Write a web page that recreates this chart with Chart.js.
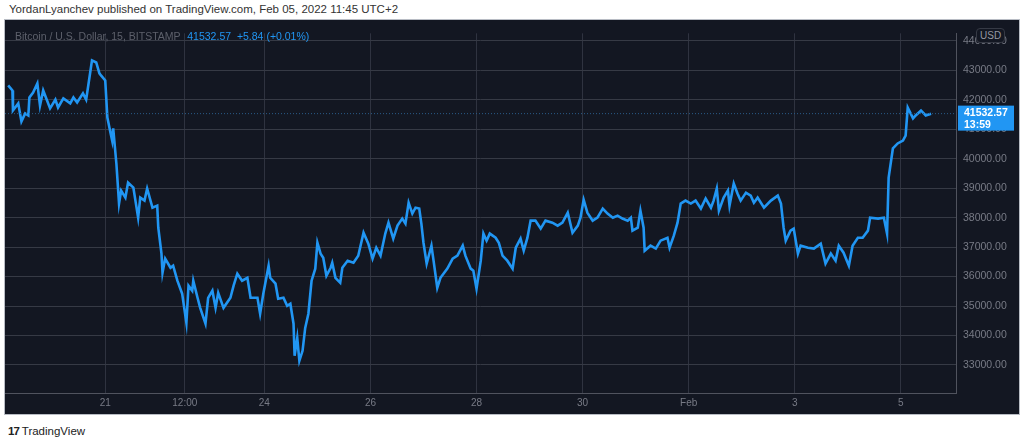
<!DOCTYPE html>
<html><head><meta charset="utf-8">
<script src="https://cdn.jsdelivr.net/npm/chart.js@4"></script>
<style>
body{margin:0;background:#fff;width:1024px;height:445px;overflow:hidden;font-family:"Liberation Sans","DejaVu Sans",sans-serif;position:relative}
#title{position:absolute;left:9px;top:3px;font-size:11.5px;color:#333}
#frame{position:absolute;left:4px;top:19px;width:1014px;height:394px;background:#131722;border:1px solid #b8bcc4;box-sizing:content-box}
#wrap{position:absolute;left:0;top:0;width:1014px;height:394px}
#legend{position:absolute;left:10px;top:10px;font-size:10.5px;color:#5d606b;pointer-events:none}
#legend .b{color:#2196f3;margin-left:4px}
#usd{position:absolute;left:971px;top:8px;font-size:10px;color:#9598a1;border:1px solid #363a45;border-radius:4px;padding:1px 3px;background:#131722}
#footer{position:absolute;left:8px;top:425px;font-size:11.5px;color:#222}
#footer b{font-weight:900;letter-spacing:-1px;margin-right:3px}
</style></head><body>
<div id="title">YordanLyanchev published on TradingView.com, Feb 05, 2022 11:45 UTC+2</div>
<div id="frame"><div id="wrap"><canvas id="c"></canvas></div>
<div id="legend">Bitcoin / U.S. Dollar, 15, BITSTAMP <span class="b">41532.57 &nbsp;+5.84 (+0.01%)</span></div>
<div id="usd">USD</div></div>
<div id="footer"><b>17</b>TradingView</div>
<script>
// days since Jan 21 00:00
const days = [-1.83,-1.75,-1.74,-1.64,-1.58,-1.51,-1.45,-1.43,-1.36,-1.28,-1.23,-1.17,-1.04,-0.94,-0.89,-0.79,-0.66,-0.60,-0.53,-0.42,-0.36,-0.32,-0.25,-0.17,-0.11,-0.08,0,0.04,0.09,0.13,0.15,0.21,0.26,0.30,0.38,0.43,0.53,0.62,0.66,0.74,0.79,0.89,0.98,1.00,1.06,1.08,1.13,1.23,1.28,1.36,1.45,1.53,1.57,1.64,1.66,1.74,1.79,1.89,1.94,2.02,2.08,2.13,2.23,2.36,2.42,2.49,2.58,2.68,2.74,2.87,2.92,2.98,3.08,3.11,3.21,3.26,3.36,3.43,3.49,3.55,3.57,3.62,3.66,3.72,3.77,3.83,3.89,3.96,4.00,4.06,4.11,4.17,4.25,
4.28,4.34,4.43,4.47,4.57,4.68,4.77,4.87,4.96,5.04,5.11,5.19,5.28,5.34,5.43,5.51,5.60,5.66,5.72,5.79,5.85,5.92,5.96,6.00,6.06,6.15,6.19,6.26,6.32,6.45,6.55,6.64,6.74,6.79,6.89,6.94,7.00,7.08,7.13,7.19,7.25,7.36,7.42,7.49,7.58,7.68,7.74,7.83,7.89,7.96,8.02,8.11,8.21,8.30,8.43,8.53,8.62,8.72,8.81,8.91,8.96,9.02,9.09,9.19,9.28,9.38,9.47,9.57,9.66,9.75,9.85,9.91,9.94,10.04,10.09,
10.15,10.17,10.28,10.38,10.47,10.60,10.64,10.72,10.79,10.85,10.94,11.04,11.13,11.23,11.32,11.42,11.47,11.53,11.57,11.66,11.74,11.77,11.85,11.92,11.98,12.08,12.17,12.23,12.30,12.42,12.55,12.68,12.74,12.79,12.83,12.92,12.98,13.06,13.11,13.25,13.36,13.49,13.58,13.68,13.77,13.83,13.92,14.02,14.09,14.19,14.28,14.38,14.42,14.57,14.68,14.74,14.77,14.85,14.94,15.04,15.09,15.13,15.23,15.28,15.38,15.47,15.57];
const prices = [42490,42320,41640,41880,41270,41540,41470,42080,42250,42560,41810,42320,41710,42010,41740,42050,41880,42080,41910,42220,42010,42490,43340,43270,42900,42830,42660,41400,40960,40620,41030,39840,38480,38920,38680,39190,39020,38000,38680,38580,38990,38340,38410,37660,36780,36130,36610,36300,36370,35860,35420,34430,35690,35520,35860,35280,34940,34400,35280,35520,34940,35450,34940,35280,35690,36100,35860,35960,35280,35280,34740,35420,36370,35960,35760,35250,35280,35010,35080,34400,33310,33920,33140,33480,34260,34740,35860,36270,37150,36780,36640,36030,36300,
36470,35960,35790,36300,36540,36470,36710,37490,37120,36610,36980,36710,37460,37830,37290,37730,37970,37800,38510,38140,38340,38310,37800,37150,36440,37050,36540,35620,35960,36270,36610,36710,37050,36710,36270,36200,35590,36540,37460,37220,37460,37320,37150,36710,36540,36270,36980,37290,36880,37320,37900,37900,37630,37900,37830,37730,37830,38170,37490,37730,38000,38610,38170,37900,38000,38310,38140,38000,38070,37970,37900,38000,37560,37660,38240,
37660,36880,37050,36950,37220,37320,36980,37390,37830,38480,38580,38480,38580,38310,38650,38340,38580,38990,38240,38680,38920,38410,39160,38820,38580,38850,38750,38510,38680,38340,38580,38750,38480,37660,37220,37560,37630,36780,37050,36980,36950,37120,36440,36780,36540,37050,36810,36370,37050,37320,37320,37560,38000,37970,38000,37460,39360,40350,40520,40620,40790,41740,41370,41470,41640,41470,41530];
const tickDays = [0,1.5,3,5,7,9,11,13,15];
const tickLabels = ["21","12:00","24","26","28","30","Feb","3","5"];
const lastPrice = 41532.57;
const lastTime = "13:59";

const tagPlugin = {
  id:'tag',
  afterDatasetsDraw(chart){
    const {ctx, chartArea:a, scales:{y}} = chart;
    const py = y.getPixelForValue(lastPrice);
    ctx.save();
    ctx.strokeStyle = '#2a5b87'; ctx.lineWidth = 1; ctx.setLineDash([1,2]);
    ctx.beginPath(); ctx.moveTo(a.left, py); ctx.lineTo(a.right, py); ctx.stroke();
    ctx.setLineDash([]);
    ctx.fillStyle = '#2196f3';
    ctx.fillRect(a.right+2, py-8, 56, 25);
    ctx.fillStyle = '#fff'; ctx.font = 'bold 10.5px "Liberation Sans", sans-serif';
    ctx.textBaseline='middle';
    ctx.fillText(lastPrice.toFixed(2), a.right+8, py-1);
    ctx.fillText(lastTime, a.right+8, py+11);
    ctx.restore();
  }
};

new Chart(document.getElementById('c'), {
  type:'line',
  data:{datasets:[{data: days.map((d,i)=>({x:d,y:prices[i]})), borderColor:'#2196f3', borderWidth:2.6, pointRadius:0, tension:0, fill:false}]},
  options:{
    responsive:true, maintainAspectRatio:false, animation:false,
    layout:{padding:0},
    plugins:{legend:{display:false}, tooltip:{enabled:false}},
    scales:{
      x:{type:'linear', min:-1.89, max:16.04,
        afterBuildTicks(s){ s.ticks = tickDays.map(v=>({value:v})); },
        afterFit(s){ s.height = 21; },
        ticks:{callback:(v)=>tickLabels[tickDays.indexOf(v)] ?? '', color:'#787b86', font:{size:10, family:'"Liberation Sans Narrow","Liberation Sans",sans-serif'}, maxRotation:0, padding:4, autoSkip:false},
        grid:{color:'#2f3340', drawTicks:false}, border:{color:'#50535e'}},
      y:{position:'right', min:32048, max:44260,
        afterBuildTicks(s){ const t=[]; for(let v=33000; v<=44000; v+=1000) t.push({value:v}); s.ticks=t; },
        afterFit(s){ s.width = 63; },
        ticks:{callback:(v)=>v.toFixed(2), color:'#787b86', font:{size:10.5}, padding:7},
        grid:{color:'#363a45', drawTicks:false}, border:{color:'#50535e'}}
    }
  },
  plugins:[tagPlugin]
});
</script></body></html>
